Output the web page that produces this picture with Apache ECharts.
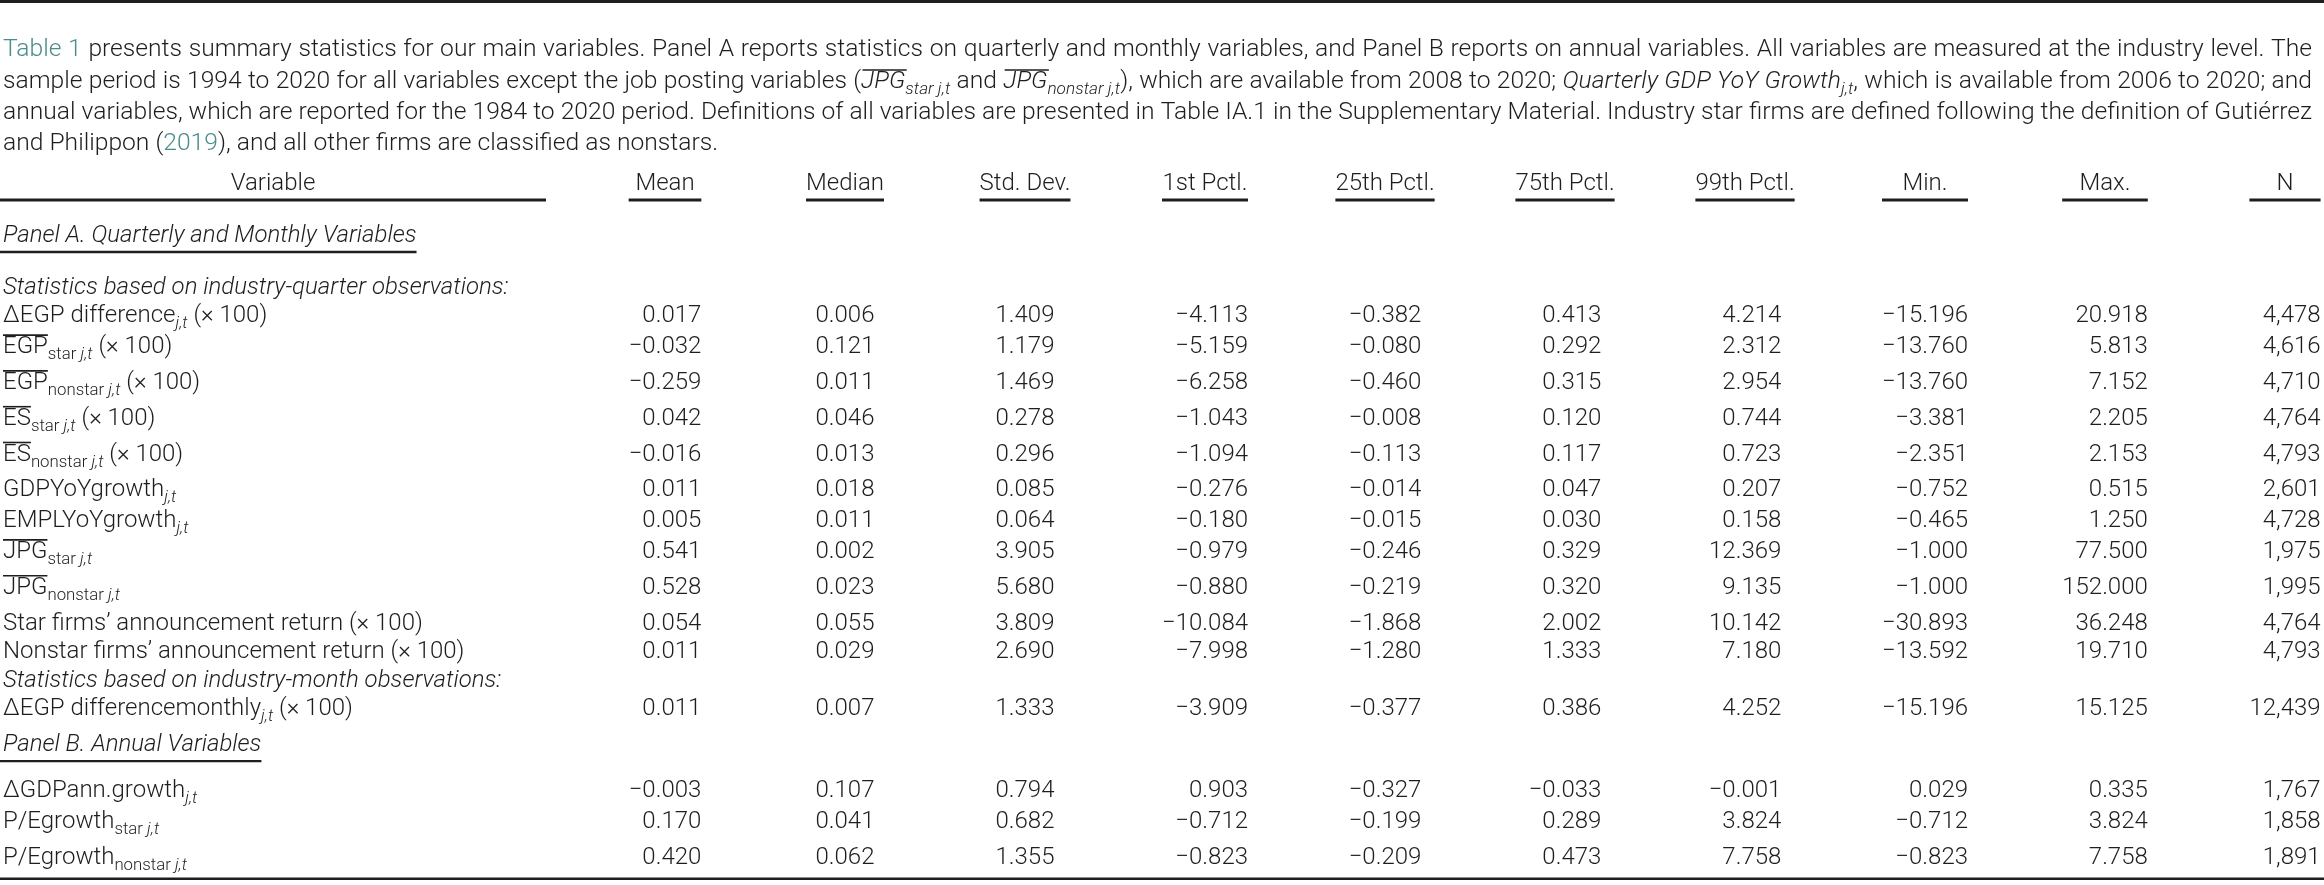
<!DOCTYPE html>
<html>
<head>
<meta charset="utf-8">
<title>Table 1 – Summary statistics</title>
<script src="https://cdn.jsdelivr.net/npm/echarts@6/dist/echarts.min.js"></script>
<style>
html,body{margin:0;padding:0;background:#ffffff;}
#chart{width:2324px;height:885px;}
</style>
</head>
<body>
<div id="chart"></div>
<script>
// ======================= DATA =======================
const INTRO_LINES = [
  '^Table 1^ presents summary statistics for our main variables. Panel A reports statistics on quarterly and monthly variables, and Panel B reports on annual variables. All variables are measured at the industry level. The',
  'sample period is 1994 to 2020 for all variables except the job posting variables (~*JPG*~_{*star j,t*} and ~*JPG*~_{*nonstar j,t*}), which are available from 2008 to 2020; *Quarterly GDP YoY Growth*_{*j,t*}, which is available from 2006 to 2020; and',
  'annual variables, which are reported for the 1984 to 2020 period. Definitions of all variables are presented in Table IA.1 in the Supplementary Material. Industry star firms are defined following the definition of Gutiérrez',
  'and Philippon (^2019^), and all other firms are classified as nonstars.'
];

const VARIABLE_HEADER = 'Variable';
const COLUMNS = ['Mean', 'Median', 'Std. Dev.', '1st Pctl.', '25th Pctl.', '75th Pctl.', '99th Pctl.', 'Min.', 'Max.', 'N'];

const ROW_KINDS = ['header', 'panel', 'stats',
  'data', 'data', 'data', 'data', 'data', 'data', 'data', 'data', 'data', 'data', 'data',
  'stats', 'data', 'panel', 'data', 'data', 'data'];

const ROW_LABELS = [
  'Variable',
  'Panel A. Quarterly and Monthly Variables',
  'Statistics based on industry-quarter observations:',
  'ΔEGP difference_{*j,t*} (× 100)',
  '~EGP~_{star *j,t*} (× 100)',
  '~EGP~_{nonstar *j,t*} (× 100)',
  '~ES~_{star *j,t*} (× 100)',
  '~ES~_{nonstar *j,t*} (× 100)',
  'GDPYoYgrowth_{*j,t*}',
  'EMPLYoYgrowth_{*j,t*}',
  '~JPG~_{star *j,t*}',
  '~JPG~_{nonstar *j,t*}',
  'Star firms’ announcement return (× 100)',
  'Nonstar firms’ announcement return (× 100)',
  'Statistics based on industry-month observations:',
  'ΔEGP differencemonthly_{*j,t*} (× 100)',
  'Panel B. Annual Variables',
  'ΔGDPann.growth_{*j,t*}',
  'P/Egrowth_{star *j,t*}',
  'P/Egrowth_{nonstar *j,t*}'
];

const MEAN    = [0.017, -0.032, -0.259, 0.042, -0.016, 0.011, 0.005, 0.541, 0.528, 0.054, 0.011, 0.011, -0.003, 0.170, 0.420];
const MEDIAN  = [0.006, 0.121, 0.011, 0.046, 0.013, 0.018, 0.011, 0.002, 0.023, 0.055, 0.029, 0.007, 0.107, 0.041, 0.062];
const STD_DEV = [1.409, 1.179, 1.469, 0.278, 0.296, 0.085, 0.064, 3.905, 5.680, 3.809, 2.690, 1.333, 0.794, 0.682, 1.355];
const PCTL_1  = [-4.113, -5.159, -6.258, -1.043, -1.094, -0.276, -0.180, -0.979, -0.880, -10.084, -7.998, -3.909, 0.903, -0.712, -0.823];
const PCTL_25 = [-0.382, -0.080, -0.460, -0.008, -0.113, -0.014, -0.015, -0.246, -0.219, -1.868, -1.280, -0.377, -0.327, -0.199, -0.209];
const PCTL_75 = [0.413, 0.292, 0.315, 0.120, 0.117, 0.047, 0.030, 0.329, 0.320, 2.002, 1.333, 0.386, -0.033, 0.289, 0.473];
const PCTL_99 = [4.214, 2.312, 2.954, 0.744, 0.723, 0.207, 0.158, 12.369, 9.135, 10.142, 7.180, 4.252, -0.001, 3.824, 7.758];
const MIN     = [-15.196, -13.760, -13.760, -3.381, -2.351, -0.752, -0.465, -1.000, -1.000, -30.893, -13.592, -15.196, 0.029, -0.712, -0.823];
const MAX     = [20.918, 5.813, 7.152, 2.205, 2.153, 0.515, 1.250, 77.500, 152.000, 36.248, 19.710, 15.125, 0.335, 3.824, 7.758];
const N_OBS   = [4478, 4616, 4710, 4764, 4793, 2601, 4728, 1975, 1995, 4764, 4793, 12439, 1767, 1858, 1891];

const SERIES_BY_COLUMN = [MEAN, MEDIAN, STD_DEV, PCTL_1, PCTL_25, PCTL_75, PCTL_99, MIN, MAX, N_OBS];

// ======================= LAYOUT / STYLE =======================
const W = 2324, H = 885;
const FONT_FAMILY = 'Roboto, "Liberation Sans", Arial, sans-serif';
const FONT_WEIGHT = 300;
const FS_TABLE = 24;
const FS_INTRO = 24;
const TABLE_SX = 1.0;
const SUB_RATIO = 0.7, SUB_DY = 0.33, OVER_DY = 0.5;
const INK = '#1e1e1e';
const LINK = '#4a8c8c';
const ROW_PX = 28.3;            // pixels of one plain table line
const TABLE_TOP = 184;
const INTRO_Y = [50, 82, 113, 144];
const INTRO_LEFT = 3, INTRO_RIGHT = 2312;
const LABEL_PAD = 3;
const HEADER_RULE_DY = 16, PANEL_RULE_DY = 16;
// vertical advance between consecutive rows, in pixels (converted to row units below)
const ADVANCE_PX = {
  'header>panel': 52, 'panel>stats': 52, 'stats>data': 28.3, 'data>data': 28.3,
  'data>stats': 29, 'data>panel': 36, 'panel>data': 46
};
const SUB_EXTRA_PX = 2.5, WORD_SUB_EXTRA_PX = 7.5;
const BOTTOM_RULE_PX = 21;

// ======================= TEXT ENGINE =======================
const mctx = document.createElement('canvas').getContext('2d');
function textW(t, font) { mctx.font = font; return mctx.measureText(t).width; }

function parseMarkup(s) {
  const runs = [];
  let italic = false, sub = false, over = false, link = false, buf = '';
  const flush = () => { if (buf) { runs.push({ text: buf, italic, sub, over, link }); buf = ''; } };
  for (let i = 0; i < s.length; i++) {
    const ch = s[i];
    if (ch === '*') { flush(); italic = !italic; }
    else if (ch === '~') { flush(); over = !over; }
    else if (ch === '^') { flush(); link = !link; }
    else if (ch === '_' && s[i + 1] === '{') { flush(); sub = true; i++; }
    else if (ch === '}' && sub) { flush(); sub = false; }
    else buf += ch;
  }
  flush();
  return runs;
}

function styleFor(run, fs, color) {
  return {
    fontFamily: FONT_FAMILY,
    fontWeight: FONT_WEIGHT,
    fontStyle: run.italic ? 'italic' : 'normal',
    fontSize: run.sub ? fs * SUB_RATIO : fs,
    fill: run.link ? LINK : color
  };
}
function cssFont(st) { return st.fontStyle + ' ' + st.fontWeight + ' ' + st.fontSize + 'px ' + st.fontFamily; }

function measureRuns(runs, fs) {
  let w = 0, n = 0;
  runs.forEach(r => {
    w += textW(r.text, cssFont(styleFor(r, fs, INK)));
    if (!r.sub) n += (r.text.match(/ /g) || []).length;
  });
  return { w, n };
}

function textEl(text, x, y, align, st, sx) {
  return {
    type: 'text', x: x, y: y, scaleX: sx == null ? 1 : sx, silent: true,
    style: Object.assign({
      text: text, x: 0, y: 0,
      align: align, verticalAlign: 'middle',
      textAlign: align, textVerticalAlign: 'middle'
    }, st)
  };
}
function ruleEl(x1, x2, y, lw) {
  return { type: 'line', silent: true, shape: { x1: x1, y1: y, x2: x2, y2: y }, style: { stroke: INK, lineWidth: lw || 3 } };
}

function buildRuns(runs, x0, y, fs, sx, extra, color) {
  const els = [];
  let x = x0;
  runs.forEach(r => {
    const st = styleFor(r, fs, color);
    const font = cssFont(st);
    const dy = r.sub ? fs * SUB_DY : 0;
    const start = x;
    const pieces = (extra && !r.sub) ? r.text.split(/( )/) : [r.text];
    pieces.forEach(pc => {
      if (!pc) return;
      const w = textW(pc, font) * sx;
      if (pc !== ' ') els.push(textEl(pc, x, y + dy, 'left', st, sx));
      x += w;
      if (pc === ' ') x += extra;
    });
    if (r.over) {
      const sh = r.italic ? fs * 0.06 : 0;
      els.push({ type: 'line', silent: true,
        shape: { x1: start + sh, y1: y - fs * OVER_DY, x2: x + sh, y2: y - fs * OVER_DY },
        style: { stroke: st.fill, lineWidth: 1.6 } });
    }
  });
  return { els, width: x - x0 };
}

function fmt(v, col) {
  if (col === COLUMNS.length - 1) return v.toLocaleString('en-US');
  return (v < 0 ? '\u2212' : '') + Math.abs(v).toFixed(3);
}

// ======================= CHART =======================
const chart = echarts.init(document.getElementById('chart'), null, { renderer: 'canvas', width: W, height: H });

function draw() {
  // ---- intro paragraph (justified) ----
  const introRuns = INTRO_LINES.map(parseMarkup);
  const introMeas = introRuns.map(r => measureRuns(r, FS_INTRO));
  const target = INTRO_RIGHT - INTRO_LEFT;
  const sIntro = Math.min.apply(null, introMeas.slice(0, introMeas.length - 1).map(m => target / m.w));
  const introEls = [ruleEl(0, W, 1.5, 3)];
  introRuns.forEach((runs, i) => {
    const m = introMeas[i];
    const last = i === introRuns.length - 1;
    const extra = last ? 0 : Math.max(0, (target - m.w * sIntro) / Math.max(1, m.n));
    const b = buildRuns(runs, INTRO_LEFT, INTRO_Y[i], FS_INTRO, sIntro, extra, INK);
    b.els.forEach(e => introEls.push(e));
  });

  // ---- row positions (row units; 1 unit = one plain table line) ----
  const rowY = [];
  ROW_KINDS.forEach((k, i) => {
    if (i === 0) { rowY.push(0); return; }
    const prevKind = ROW_KINDS[i - 1], prevLabel = ROW_LABELS[i - 1];
    let px = ADVANCE_PX[prevKind + '>' + k];
    if (k === 'data' && prevKind === 'data') {
      if (/_\{[a-z]+ /.test(prevLabel)) px += WORD_SUB_EXTRA_PX;
      else if (prevLabel.indexOf('_{') >= 0) px += SUB_EXTRA_PX;
    }
    rowY.push(rowY[i - 1] + px / ROW_PX);
  });
  const Y_MAX = rowY[rowY.length - 1] + BOTTOM_RULE_PX / ROW_PX;

  const LEFT_ITEMS = ROW_KINDS.map((k, i) => {
    let runs = parseMarkup(ROW_LABELS[i]);
    if (k === 'panel' || k === 'stats') runs = runs.map(r => Object.assign({}, r, { italic: true }));
    return { kind: k, label: ROW_LABELS[i], runs: runs, y: rowY[i] };
  });
  LEFT_ITEMS.push({ kind: 'rule', y: Y_MAX });

  const plain = styleFor({ italic: false, sub: false, link: false }, FS_TABLE, INK);
  const plainFont = cssFont(plain);

  const COLW = SERIES_BY_COLUMN.map((arr, c) => Math.max.apply(null, arr.map(v => textW(fmt(v, c), plainFont) * TABLE_SX)));
  const HEADW = COLUMNS.map(t => textW(t, plainFont) * TABLE_SX);

  const RIGHT_ITEMS = [];
  COLUMNS.forEach((t, c) => RIGHT_ITEMS.push({ col: c, y: 0, header: true, text: t }));
  let d = 0;
  ROW_KINDS.forEach((k, i) => {
    if (k !== 'data') return;
    SERIES_BY_COLUMN.forEach((arr, c) => RIGHT_ITEMS.push({ col: c, y: rowY[i], header: false, text: fmt(arr[d], c) }));
    d++;
  });

  function renderLeft(params, api) {
    const it = LEFT_ITEMS[params.dataIndex];
    const p = api.coord([0, api.value(1)]);
    const bw = api.size([1, 0])[0];
    const x0 = p[0] - bw / 2, y = p[1];
    if (it.kind === 'rule') return ruleEl(0, api.getWidth(), y, 2.6);
    if (it.kind === 'header') {
      return { type: 'group', children: [textEl(it.label, p[0], y, 'center', plain, TABLE_SX), ruleEl(x0, x0 + bw, y + HEADER_RULE_DY, 3)] };
    }
    const b = buildRuns(it.runs, x0 + LABEL_PAD, y, FS_TABLE, TABLE_SX, 0, INK);
    const children = b.els;
    if (it.kind === 'panel') children.push(ruleEl(x0, x0 + LABEL_PAD + b.width, y + PANEL_RULE_DY, 2.4));
    return { type: 'group', children: children };
  }

  function renderRight(params, api) {
    const it = RIGHT_ITEMS[params.dataIndex];
    const p = api.coord([api.value(0), api.value(1)]);
    const cx = p[0], y = p[1];
    if (it.header) {
      const rw = Math.max(HEADW[it.col], COLW[it.col]);
      return { type: 'group', children: [textEl(it.text, cx, y, 'center', plain, TABLE_SX), ruleEl(cx - rw / 2, cx + rw / 2, y + HEADER_RULE_DY, 3)] };
    }
    return textEl(it.text, cx + COLW[it.col] / 2, y, 'right', plain, TABLE_SX);
  }

  const gridH = Y_MAX * ROW_PX;
  const option = {
    backgroundColor: '#ffffff',
    animation: false,
    graphic: { elements: introEls },
    grid: [
      { left: 0, top: TABLE_TOP, width: 546, height: gridH, outerBoundsMode: 'none', containLabel: false },
      { left: 575, top: TABLE_TOP, width: 1800, height: gridH, outerBoundsMode: 'none', containLabel: false }
    ],
    xAxis: [
      { type: 'category', gridIndex: 0, data: [VARIABLE_HEADER], show: false },
      { type: 'category', gridIndex: 1, data: COLUMNS, show: false }
    ],
    yAxis: [
      { type: 'value', gridIndex: 0, inverse: true, min: 0, max: Y_MAX, show: false },
      { type: 'value', gridIndex: 1, inverse: true, min: 0, max: Y_MAX, show: false }
    ],
    series: [
      { type: 'custom', name: 'Variable', xAxisIndex: 0, yAxisIndex: 0, clip: false, silent: true,
        encode: { x: 0, y: 1 }, data: LEFT_ITEMS.map(it => [0, it.y]), renderItem: renderLeft },
      { type: 'custom', name: 'Statistics', xAxisIndex: 1, yAxisIndex: 1, clip: false, silent: true,
        encode: { x: 0, y: 1 }, data: RIGHT_ITEMS.map(it => [it.col, it.y]), renderItem: renderRight }
    ]
  };
  chart.setOption(option, true);
}

draw();
if (document.fonts && document.fonts.load) {
  Promise.all([
    document.fonts.load('300 24px Roboto'),
    document.fonts.load('italic 300 24px Roboto')
  ]).then(draw).catch(function () {});
}
</script>
</body>
</html>
